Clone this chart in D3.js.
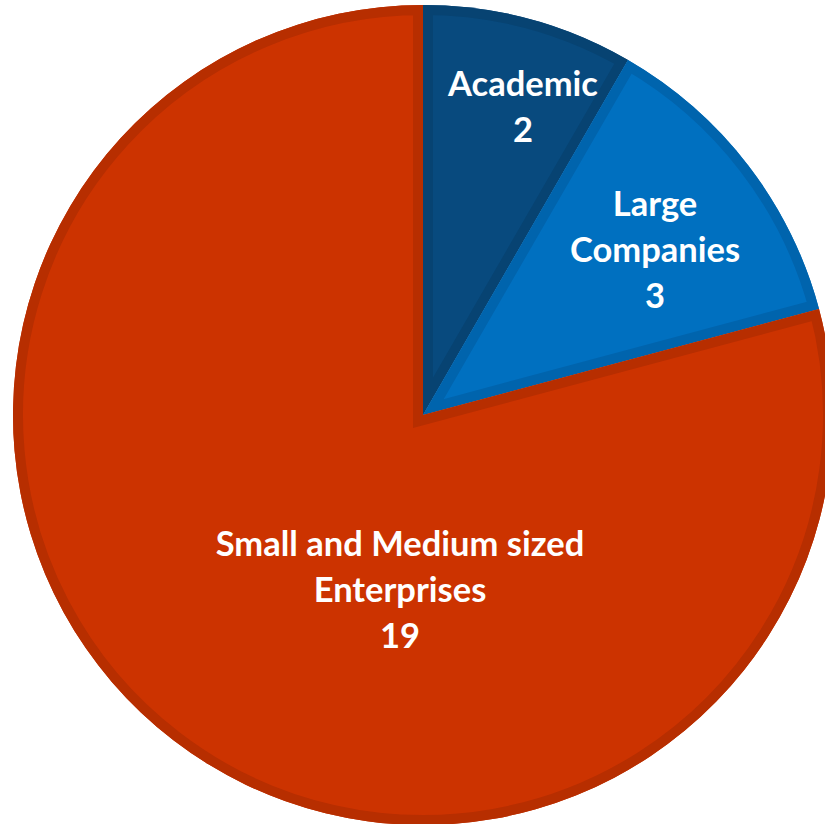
<!DOCTYPE html>
<html>
<head>
<meta charset="utf-8">
<script src="https://cdn.jsdelivr.net/npm/d3@7"></script>
<style>
  html, body { margin: 0; padding: 0; background: #fff; overflow: hidden; }
  svg { display: block; }
  .lbl { font-family: Lato, "Open Sans", sans-serif; font-weight: 700; fill: #fff; }
</style>
</head>
<body>
<div id="chart"></div>
<script>
// data
const categories = ["Academic", "Large Companies", "Small and Medium sized Enterprises"];
const counts = [2, 3, 19];
const labelLines = [["Academic"], ["Large", "Companies"], ["Small and Medium sized", "Enterprises"]];
const fills = ["#084a7e", "#0070c0", "#cc3300"];
const borders = ["#074372", "#0064ad", "#b72e00"];

const width = 825, height = 824;
const cx = 423, cy = 415, radius = 410;
const border = 10;

// label anchor (x, y of middle line) relative to center, tuned to match Excel best-fit
const labelAt = [[100, -308], [232, -165], [-23, 175]];
const lineH = 46;

const svg = d3.select("#chart").append("svg")
  .attr("width", width)
  .attr("height", height);

const g = svg.append("g")
  .attr("transform", "translate(" + cx + "," + cy + ")");

const data = categories.map((c, i) => ({ name: c, value: counts[i], i: i }));

const pie = d3.pie()
  .sort(null)
  .value(d => d.value);

const arc = d3.arc()
  .innerRadius(0)
  .outerRadius(radius);

const arcs = pie(data);

const defs = svg.append("defs");
arcs.forEach((a, i) => {
  defs.append("clipPath")
    .attr("id", "clip" + i)
    .append("path")
    .attr("d", arc(a));
});

// slices with the border kept inside each slice
const slice = g.selectAll(".slice")
  .data(arcs)
  .enter().append("g")
  .attr("class", "slice");

slice.append("path")
  .attr("d", arc)
  .attr("fill", (d, i) => fills[i]);

slice.append("path")
  .attr("d", arc)
  .attr("fill", "none")
  .attr("stroke", (d, i) => borders[i])
  .attr("stroke-width", border * 2)
  .attr("stroke-linejoin", "miter")
  .attr("clip-path", (d, i) => "url(#clip" + i + ")");

// labels
arcs.forEach((a, i) => {
  const lines = labelLines[i].concat([String(a.data.value)]);
  const t = g.append("text")
    .attr("class", "lbl")
    .attr("text-anchor", "middle")
    .attr("font-size", 34.5);
  const n = lines.length;
  lines.forEach((l, k) => {
    t.append("tspan")
      .attr("x", labelAt[i][0])
      .attr("y", labelAt[i][1] + (k - (n - 1) / 2) * lineH)
      .attr("dy", "0.35em")
      .text(l);
  });
});
</script>
</body>
</html>
